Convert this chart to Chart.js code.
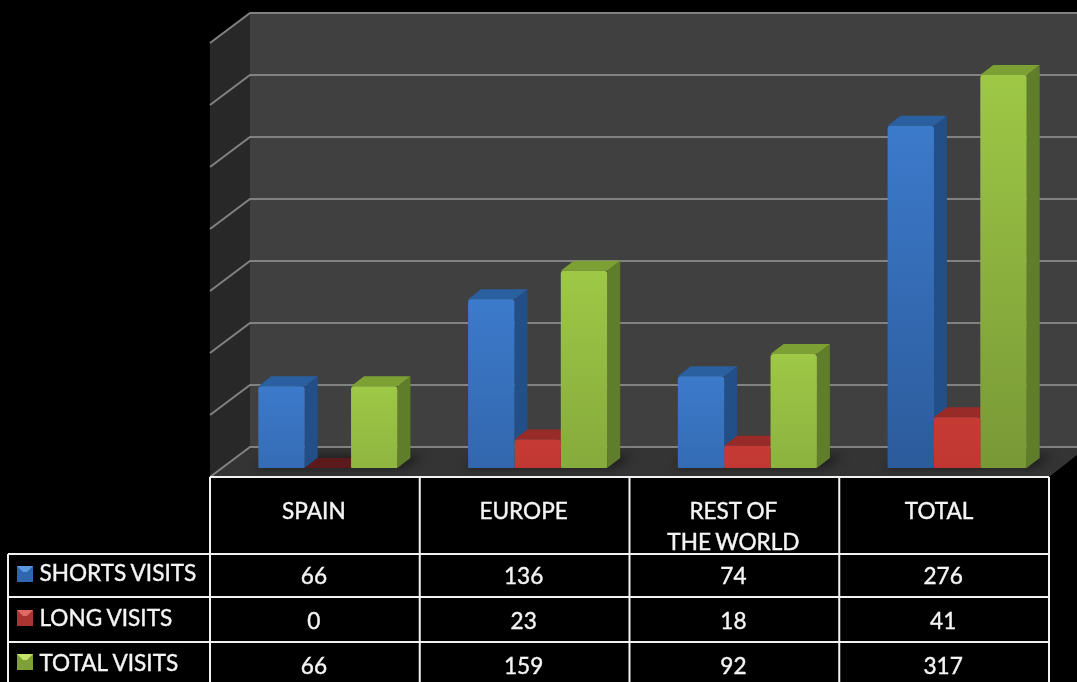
<!DOCTYPE html>
<html><head><meta charset="utf-8">
<style>html,body{margin:0;padding:0;background:#000;overflow:hidden}canvas{display:block;filter:blur(0.6px)}</style>
<script src="https://cdn.jsdelivr.net/npm/chart.js@4"></script>
</head><body><canvas id="c" width="1077" height="682"></canvas>
<script>
const categories = ["SPAIN", "EUROPE", "REST OF\nTHE WORLD", "TOTAL"];
const seriesNames = ["SHORTS VISITS", "LONG VISITS", "TOTAL VISITS"];
const shortVisits = [66, 136, 74, 276];
const longVisits = [0, 23, 18, 41];
const totalVisits = [66, 159, 92, 317];
const axisMax = 350, axisStep = 50;

const palette = [
  {top:[60,122,203], low:[42,88,150], side:'#234f88', cap:'#2a5fa0', mark:'#2f66ae', markTop:'#5a9ae0'},
  {top:[198,58,52], low:[180,50,46], side:'#8a2a26', cap:'#982a28', mark:'#a93532', markTop:'#e06a62', zero:'#5c1a1c'},
  {top:[158,200,70], low:[120,152,54], side:'#5f7d2a', cap:'#7da034', mark:'#7f9f38', markTop:'#c4e36a'}
];
const DX = 13, DY = -10;        // bar depth
const wallBackDX = 27, wallBackDY = -21, wallFrontDX = -13, wallFrontDY = 9;
const RIGHT = 1077;
const headerShift = [-1,-1,-1,-5];

function mix(a,b,t){return 'rgb('+a.map((v,i)=>Math.round(v+(b[i]-v)*t)).join(',')+')';}
function frontFill(i){
  return ctx=>{
    const y=ctx.chart.scales.y, p=palette[i];
    if(!y || typeof ctx.raw!=='number') return mix(p.top,p.low,.3);
    const yt=y.getPixelForValue(ctx.raw), yb=y.getPixelForValue(0);
    if(!isFinite(yt)||!isFinite(yb)) return mix(p.top,p.low,.3);
    const g=ctx.chart.ctx.createLinearGradient(0,yt,0,yb);
    const h=(yb-yt)/393;
    g.addColorStop(0,mix(p.top,p.top,0));
    g.addColorStop(1,mix(p.top,p.low,Math.min(1,.25+h*.75)));
    return g;
  };
}
function poly(c,pts,fill){c.beginPath();pts.forEach((p,i)=>i?c.lineTo(p[0],p[1]):c.moveTo(p[0],p[1]));c.closePath();c.fillStyle=fill;c.fill();}
function label(c,t,x,y){c.fillText(t,x,y);c.strokeText(t,x,y);}

const scene = {
  id:'scene',
  beforeDatasetsDraw(chart){
    const c=chart.ctx,a=chart.chartArea,y=chart.scales.y;
    const bx=a.left+wallBackDX, fx=a.left+wallFrontDX;
    const y0=y.getPixelForValue(0), yM=y.getPixelForValue(axisMax);
    c.save();
    poly(c,[[bx,yM+wallBackDY],[RIGHT,yM+wallBackDY],[RIGHT,y0+wallBackDY],[bx,y0+wallBackDY]],'#404040');
    poly(c,[[fx,yM+wallFrontDY],[bx,yM+wallBackDY],[bx,y0+wallBackDY],[fx,y0+wallFrontDY]],'#282828');
    const fr=a.right+wallFrontDX;
    poly(c,[[fx,y0+wallFrontDY],[bx,y0+wallBackDY],[RIGHT,y0+wallBackDY],[RIGHT,y0+wallBackDY+8],[fr,y0+wallFrontDY]],'#343434');
    c.strokeStyle='#828282';c.lineWidth=2;
    for(let v=0;v<=axisMax;v+=axisStep){
      const p=y.getPixelForValue(v);
      c.beginPath();c.moveTo(fx,p+wallFrontDY);c.lineTo(bx,p+wallBackDY);c.lineTo(RIGHT,p+wallBackDY);c.stroke();
    }
    // contact shadows on the floor
    c.filter='blur(5px)';
    chart.getDatasetMeta(0).data.forEach((b,i)=>{
      const g=chart.getDatasetMeta(2).data[i];
      poly(c,[[b.x-b.width/2-4,y0],[b.x-b.width/2+DX,y0+DY-2],[g.x+g.width/2+DX+14,y0+DY-2],[g.x+g.width/2+6,y0]],'rgba(0,0,0,.45)');
    });
    c.filter='none';
    // side and top faces, left to right; the library draws the front faces over them
    palette.forEach((p,d)=>{
      chart.getDatasetMeta(d).data.forEach(b=>{
        const l=b.x-b.width/2,r=b.x+b.width/2,t=b.y,base=b.base;
        if(base-t>0.5) poly(c,[[r,base],[r+DX,base+DY],[r+DX,t+DY],[r,t]],p.side);
        poly(c,[[l,t],[l+DX,t+DY],[r+DX,t+DY],[r,t]],(base-t<=0.5&&p.zero)?p.zero:p.cap);
      });
    });
    c.restore();
  },
  afterDraw(chart){
    const c=chart.ctx,a=chart.chartArea,xs=chart.scales.x;
    const left=a.left+wallFrontDX, colW=xs.getPixelForValue(1)-xs.getPixelForValue(0);
    const cols=categories.map((_,i)=>left+i*colW); cols.push(left+categories.length*colW);
    const rows=[477,554,597,642,687], legendLeft=8;
    c.save();
    c.strokeStyle='#f2f2f2';c.lineWidth=2;
    c.beginPath();
    c.moveTo(cols[0],rows[0]);c.lineTo(cols[4],rows[0]);
    for(let r=1;r<rows.length-1;r++){c.moveTo(legendLeft,rows[r]);c.lineTo(cols[4],rows[r]);}
    cols.forEach(x=>{c.moveTo(x,rows[0]);c.lineTo(x,682);});
    c.moveTo(legendLeft,rows[1]);c.lineTo(legendLeft,682);
    c.stroke();
    c.fillStyle='#f4f4f4';c.strokeStyle='#f4f4f4';c.lineWidth=.4;
    c.textBaseline='middle';c.textAlign='center';
    c.font='22.6px Lato';c.wordSpacing='-1.5px';
    categories.forEach((t,i)=>{
      const cx=(cols[i]+cols[i+1])/2+headerShift[i];
      t.split('\n').forEach((ln,k)=>label(c,ln,cx,512+k*31));
    });
    const table=[shortVisits,longVisits,totalVisits], rowY=[577,622,667], nameY=[574,619,664], markY=[566,610,654];
    table.forEach((vals,r)=>{
      c.fillStyle='#f4f4f4';c.textAlign='center';
      vals.forEach((v,i)=>label(c,String(v),(cols[i]+cols[i+1])/2-1,rowY[r]));
      c.textAlign='left';
      label(c,seriesNames[r],39.5,nameY[r]);
      const m=markY[r],p=palette[r];
      poly(c,[[17,m],[33,m],[33,m+16],[17,m+16]],p.mark);
      poly(c,[[17,m],[33,m],[27,m+6],[23,m+6]],p.markTop);
    });
    c.restore();
  }
};

new Chart(document.getElementById('c'),{
  type:'bar',
  data:{labels:categories,datasets:[shortVisits,longVisits,totalVisits].map((d,i)=>({
    label:seriesNames[i],data:d,backgroundColor:frontFill(i),
    borderRadius:{topLeft:3,topRight:3,bottomLeft:1,bottomRight:1},borderSkipped:false,
    barPercentage:1,categoryPercentage:.663
  }))},
  options:{
    responsive:false,animation:false,
    layout:{padding:{left:223,right:15,top:34,bottom:214}},
    plugins:{legend:{display:false},title:{display:false},tooltip:{enabled:false}},
    scales:{
      x:{display:false},
      y:{display:false,min:0,max:axisMax,ticks:{stepSize:axisStep}}
    }
  },
  plugins:[scene]
});
</script></body></html>
